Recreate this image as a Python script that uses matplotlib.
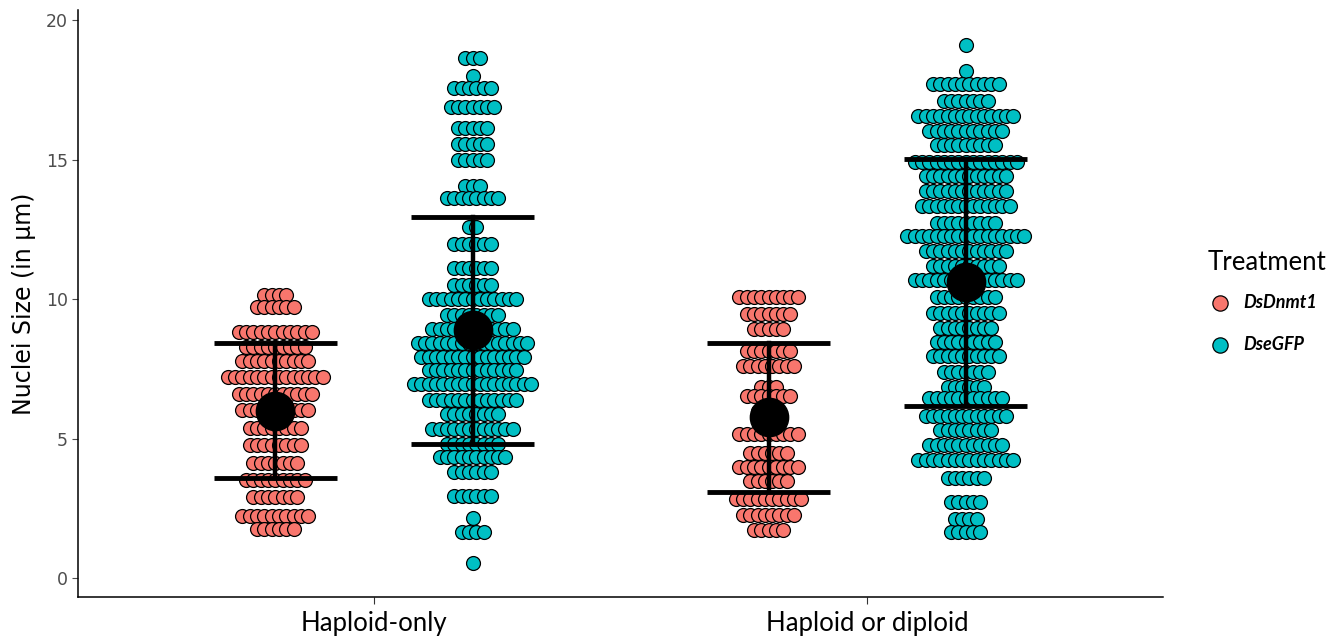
import numpy as np
import matplotlib.pyplot as plt
from matplotlib.lines import Line2D

categories = ['Haploid-only', 'Haploid or diploid']
treatments = ['DsDnmt1', 'DseGFP']
colors = ['#F8766D', '#00BFC4']

# dotplot rows: bin value (um) and how many dots sit in that bin
hap_dnmt_y = [10.14, 9.72, 8.83, 8.29, 7.79, 7.21, 6.59, 6.02, 5.38, 4.77, 4.13, 3.51, 2.91, 2.23, 1.76]
hap_dnmt_n = [4, 6, 11, 9, 10, 14, 11, 10, 8, 8, 7, 9, 7, 10, 6]

hap_gfp_y = [18.66, 18.0, 17.55, 16.89, 16.12, 15.56, 14.98, 14.06, 13.63, 12.57, 11.97, 11.1, 10.5,
             9.99, 9.43, 8.91, 8.41, 7.93, 7.46, 6.94, 6.38, 5.87, 5.34, 4.79, 4.33, 3.79, 2.94,
             2.16, 1.66, 0.55]
hap_gfp_n = [3, 1, 6, 7, 5, 5, 5, 3, 8, 2, 6, 6, 6, 13, 8, 12, 16, 15, 13, 17, 13, 8, 12, 8, 10,
             6, 6, 1, 4, 1]

dip_dnmt_y = [10.06, 9.46, 8.92, 8.15, 7.6, 6.86, 6.53, 6.0, 5.16, 4.5, 3.99, 3.48, 2.83, 2.26, 1.72]
dip_dnmt_n = [9, 7, 5, 7, 8, 3, 7, 4, 9, 6, 9, 6, 10, 8, 5]

dip_gfp_y = [19.1, 18.18, 17.7, 17.1, 16.56, 16.03, 15.52, 14.9, 14.41, 13.87, 13.34, 12.73, 12.26,
             11.73, 11.18, 10.68, 10.09, 9.49, 8.95, 8.47, 7.96, 7.39, 6.86, 6.44, 5.81, 5.3, 4.77,
             4.23, 3.57, 2.73, 2.1, 1.64]
dip_gfp_n = [1, 1, 10, 7, 14, 11, 9, 15, 12, 12, 13, 9, 17, 12, 10, 15, 9, 10, 8, 9, 10, 7, 6, 11,
             12, 8, 11, 14, 6, 5, 4, 5]

# mean +/- sd as drawn by stat_summary
means = [[6.0, 8.88], [5.77, 10.6]]
sds = [[2.43, 4.07], [2.67, 4.44]]

groups = [(0, 0, hap_dnmt_y, hap_dnmt_n),
          (0, 1, hap_gfp_y, hap_gfp_n),
          (1, 0, dip_dnmt_y, dip_dnmt_n),
          (1, 1, dip_gfp_y, dip_gfp_n)]

fig = plt.figure(figsize=(13.41, 6.4), dpi=100)
ax = fig.add_axes([0.0582, 0.0672, 0.8091, 0.917])

dodge = 0.2
step = 0.0148
for ci, ti, ys, ns in groups:
    xc = ci + 1 + (dodge if ti else -dodge)
    xs, yy = [], []
    for y, n in zip(ys, ns):
        for k in range(n):
            xs.append(xc + (k - (n - 1) / 2) * step)
            yy.append(y)
    ax.scatter(xs, yy, s=100, c=colors[ti], edgecolors='black', linewidths=0.9, zorder=2)
    m, sd = means[ci][ti], sds[ci][ti]
    ax.plot([xc, xc], [m - sd, m + sd], color='black', lw=3.2, zorder=3)
    ax.hlines([m - sd, m + sd], xc - 0.125, xc + 0.125, color='black', lw=3.5, zorder=3)
    ax.scatter([xc], [m], s=760, c='black', zorder=4)

ax.set_xlim(0.4, 2.6)
ax.set_ylim(-0.68, 20.36)
ax.set_xticks([1, 2])
ax.set_xticklabels(categories, fontsize=18.5, family='Lato')
ax.set_yticks([0, 5, 10, 15, 20])
ax.tick_params(axis='y', labelsize=12.5, colors='#4D4D4D', length=4)
ax.tick_params(axis='x', length=5, color='#333333', pad=5)
ax.set_ylabel('Nuclei Size (in µm)', fontsize=17)
ax.yaxis.set_label_coords(-0.039, 0.5)
for side in ['top', 'right']:
    ax.spines[side].set_visible(False)
for side in ['left', 'bottom']:
    ax.spines[side].set_linewidth(1.1)

# legend
fig.text(1208 / 1341, 1 - 262 / 640, 'Treatment', fontsize=18.5, family='Lato', va='center', ha='left')
for i, (lab, col) in enumerate(zip(treatments, colors)):
    yf = 1 - (303 + 42 * i) / 640
    fig.add_artist(Line2D([1220 / 1341], [yf], marker='o', markersize=11, markerfacecolor=col,
                          markeredgecolor='black', markeredgewidth=0.9, linestyle='none',
                          transform=fig.transFigure))
    fig.text(1243 / 1341, yf, lab, fontsize=13, family='Lato', fontweight='bold',
             fontstyle='italic', va='center', ha='left')

fig.savefig('out.png', dpi=100)
